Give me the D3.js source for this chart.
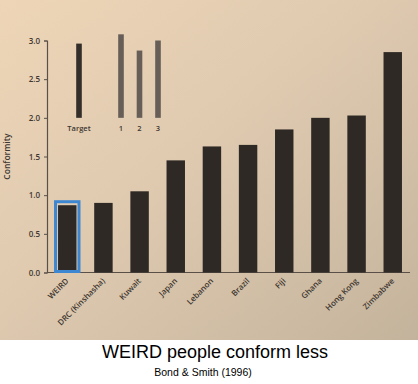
<!DOCTYPE html>
<html>
<head>
<meta charset="utf-8">
<script src="https://cdn.jsdelivr.net/npm/d3@7"></script>
<style>
  html, body { margin: 0; padding: 0; background: #fff; }
  svg { display: block; }
</style>
</head>
<body>
<svg id="chart"></svg>
<script>
// Chart data
const countries = ['WEIRD', 'DRC (Kinshasha)', 'Kuwait', 'Japan', 'Lebanon', 'Brazil', 'Fiji', 'Ghana', 'Hong Kong', 'Zimbabwe'];
const conformity = [0.87, 0.9, 1.05, 1.45, 1.63, 1.65, 1.85, 2.0, 2.03, 2.85];
const yTicks = [0.0, 0.5, 1.0, 1.5, 2.0, 2.5, 3.0];

// Asch line inset (drawn on the same y scale, from 2.0 upward)
const insetLabels = ['Target', '1', '2', '3'];
const insetTops = [2.96, 3.08, 2.87, 3.0];
const insetBase = 2.0;

const width = 418, height = 384;
const photoBottom = 340;

const svg = d3.select('#chart')
    .attr('width', width)
    .attr('height', height)
    .attr('viewBox', `0 0 ${width} ${height}`);

// Paper background (photo look)
const defs = svg.append('defs');
const grad = defs.append('linearGradient')
    .attr('id', 'paper')
    .attr('x1', '0').attr('y1', '0')
    .attr('x2', '1').attr('y2', '1');
grad.append('stop').attr('offset', '0%').attr('stop-color', '#eed5b7');
grad.append('stop').attr('offset', '45%').attr('stop-color', '#dfcab0');
grad.append('stop').attr('offset', '100%').attr('stop-color', '#c4b39c');

svg.append('rect')
    .attr('width', width)
    .attr('height', photoBottom)
    .attr('fill', 'url(#paper)');

// Scales
const x = d3.scaleBand()
    .domain(countries)
    .range([49, 411])
    .paddingInner(0.49)
    .paddingOuter(0.25);

const y = d3.scaleLinear()
    .domain([0, 3])
    .range([272.5, 40.5]);

const ink = '#2e2925';
const textInk = '#3f3731';
const labelFont = '"Open Sans", sans-serif';

// Y axis
const yAxis = d3.axisLeft(y)
    .tickValues(yTicks)
    .tickFormat(d3.format('.1f'))
    .tickSize(3)
    .tickPadding(4);

const gy = svg.append('g')
    .attr('transform', 'translate(47,0)')
    .call(yAxis);
gy.select('.domain').attr('stroke', '#5a5048').attr('stroke-width', 1.2);
gy.selectAll('.tick line').attr('stroke', '#5a5048');
gy.selectAll('.tick text')
    .attr('fill', textInk)
    .attr('font-size', 8)
    .attr('font-weight', 600)
    .attr('font-family', labelFont);

// X axis line (no ticks)
svg.append('line')
    .attr('x1', 47).attr('x2', 410)
    .attr('y1', y(0)).attr('y2', y(0))
    .attr('stroke', '#5a5048')
    .attr('stroke-width', 1.2);

// Y label
svg.append('text')
    .attr('transform', `translate(10,${y(1.5)}) rotate(-90)`)
    .attr('text-anchor', 'middle')
    .attr('font-size', 8.5)
    .attr('font-weight', 600)
    .attr('font-family', labelFont)
    .attr('fill', textInk)
    .text('Conformity');

// Bars
svg.selectAll('rect.bar')
    .data(countries)
    .enter()
    .append('rect')
    .attr('class', 'bar')
    .attr('x', d => x(d))
    .attr('y', (d, i) => y(conformity[i]))
    .attr('width', x.bandwidth())
    .attr('height', (d, i) => y(0) - y(conformity[i]))
    .attr('fill', ink);

// Highlight box around WEIRD
svg.append('rect')
    .attr('x', x('WEIRD') - 2.5)
    .attr('y', y(conformity[0]) - 3.5)
    .attr('width', x.bandwidth() + 5)
    .attr('height', y(0) - y(conformity[0]) + 2.5)
    .attr('fill', 'none')
    .attr('stroke', '#3d86d2')
    .attr('stroke-width', 3);

// Country labels, rotated
svg.selectAll('text.country')
    .data(countries)
    .enter()
    .append('text')
    .attr('class', 'country')
    .attr('transform', d => `translate(${x(d) + x.bandwidth() / 2 + 2},${y(0) + 9}) rotate(-45)`)
    .attr('text-anchor', 'end')
    .attr('font-size', 8)
    .attr('font-weight', 600)
    .attr('font-family', labelFont)
    .attr('fill', textInk)
    .text(d => d);

// Inset: Asch lines
const xi = d3.scalePoint()
    .domain(insetLabels)
    .range([79, 158]);
const insetX = d => insetLabels.indexOf(d) === 0 ? xi(d) : 121 + (insetLabels.indexOf(d) - 1) * 18.5;

svg.selectAll('rect.inset')
    .data(insetLabels)
    .enter()
    .append('rect')
    .attr('class', 'inset')
    .attr('x', d => insetX(d) - 2.8)
    .attr('y', (d, i) => y(insetTops[i]))
    .attr('width', 5.6)
    .attr('height', (d, i) => y(insetBase) - y(insetTops[i]))
    .attr('fill', (d, i) => i === 0 ? '#342e2a' : '#665e57');

svg.selectAll('text.inset')
    .data(insetLabels)
    .enter()
    .append('text')
    .attr('class', 'inset')
    .attr('x', d => insetX(d))
    .attr('y', y(insetBase) + 13)
    .attr('text-anchor', 'middle')
    .attr('font-size', 7.5)
    .attr('font-weight', 600)
    .attr('font-family', labelFont)
    .attr('fill', textInk)
    .text(d => d);

// Caption below the photo
svg.append('text')
    .attr('x', 215)
    .attr('y', 358)
    .attr('text-anchor', 'middle')
    .attr('font-size', 18)
    .attr('font-family', '"Liberation Sans", Arial, sans-serif')
    .attr('fill', '#000')
    .text('WEIRD people conform less');

svg.append('text')
    .attr('x', 203)
    .attr('y', 376)
    .attr('text-anchor', 'middle')
    .attr('font-size', 10.5)
    .attr('font-family', '"Liberation Sans", Arial, sans-serif')
    .attr('fill', '#000')
    .text('Bond & Smith (1996)');
</script>
</body>
</html>
